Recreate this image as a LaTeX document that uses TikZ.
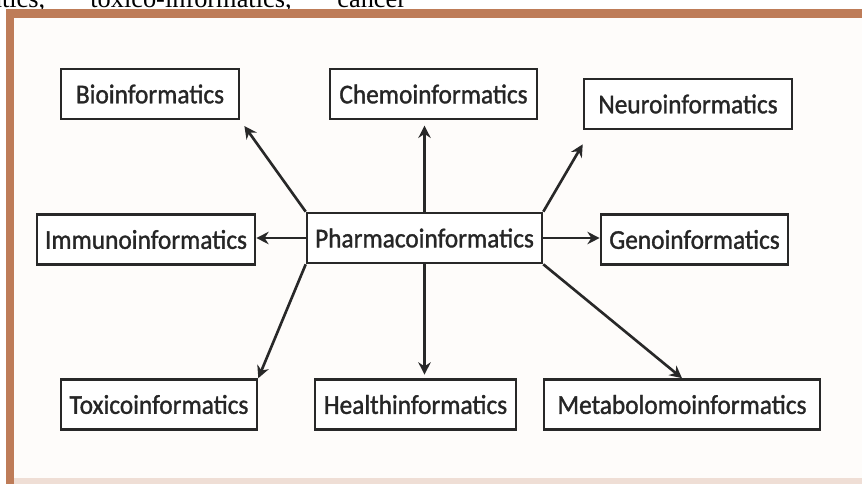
\documentclass[tikz,border=0pt]{standalone}
\usepackage{fontspec}
\setmainfont{Liberation Serif}
\newfontfamily\boxfont{Carlito}[FakeStretch=0.93, FakeBold=1.2]
\usetikzlibrary{arrows.meta}
\definecolor{frameBrown}{RGB}{190,124,88}
\definecolor{boxLine}{RGB}{40,40,40}
\definecolor{paper}{RGB}{254,252,250}
\tikzset{
  box/.style={draw=boxLine, line width=1.5pt, fill=white, inner sep=0pt,
    minimum height=1cm, font=\boxfont\fontsize{15.5}{18}\selectfont, text=black!85},
  arr/.style={line width=1.5pt, draw=boxLine, -{Stealth[length=7pt,width=7pt]}}
}

\begin{document}
\begin{tikzpicture}[x=0.02cm, y=-0.02cm]
    \useasboundingbox (0,0) rectangle (862,484);

    % Caption line cut by the top edge
    \begin{scope}
        \clip (0,0) rectangle (862,9);
        \node[anchor=base west, inner sep=0pt, font=\fontsize{15}{17}\selectfont] (capA) at (-10,7) {atics,};
        \node[anchor=base west, inner sep=0pt, font=\fontsize{15}{17}\selectfont] (capB) at (90,7) {toxico-informatics,};
        \node[anchor=base west, inner sep=0pt, font=\fontsize{15}{17}\selectfont] (capC) at (337,7) {cancer};
    \end{scope}

    % Frame
    \fill[paper] (14,18) rectangle (862,478);
    \fill[frameBrown] (6,9) rectangle (862,18);
    \fill[frameBrown] (6,9) rectangle (14,484);
    \fill[frameBrown!25] (14,478) rectangle (862,484);

    % Boxes
    \node[box, minimum width=3.56cm] (bio) at (150,94) {Bioinformatics};
    \node[box, minimum width=4.14cm] (chemo) at (433.5,94) {Chemoinformatics};
    \node[box, minimum width=4.16cm] (neuro) at (688,104) {Neuroinformatics};
    \node[box, minimum width=4.36cm] (immuno) at (146,239.5) {Immunoinformatics};
    \node[box, minimum width=4.70cm] (pharma) at (424.5,238) {Pharmacoinformatics};
    \node[box, minimum width=3.74cm] (geno) at (694.5,239.5) {Genoinformatics};
    \node[box, minimum width=3.92cm] (toxico) at (159,404.5) {Toxicoinformatics};
    \node[box, minimum width=4.02cm] (health) at (415.5,404.5) {Healthinformatics};
    \node[box, minimum width=5.52cm] (metab) at (682,404.5) {Metabolomoinformatics};

    % Arrows out of the centre
    \coordinate (neuroTip) at ([yshift=-0.28cm]neuro.south west);
    \draw[arr, shorten >=4pt] (pharma.north west) -- (bio.south east);
    \draw[arr, shorten >=3pt] (pharma.north) -- (pharma.north |- chemo.south);
    \draw[arr] (pharma.north east) -- (neuroTip);
    \draw[arr] (pharma.west) -- (immuno.east |- pharma.west);
    \draw[arr] (pharma.east) -- (geno.west |- pharma.east);
    \draw[arr] (pharma.south west) -- (toxico.north east);
    \draw[arr, shorten >=2pt] (pharma.south) -- (pharma.south |- health.north);
    \draw[arr] (pharma.south east) -- (metab.north);
\end{tikzpicture}
\end{document}
